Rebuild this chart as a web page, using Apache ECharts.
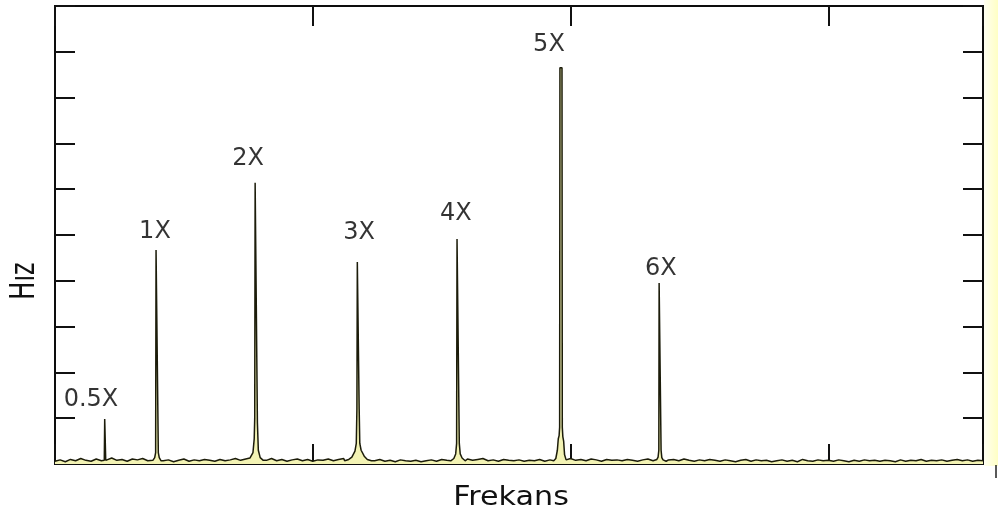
<!DOCTYPE html>
<html>
<head>
<meta charset="utf-8">
<script src="https://cdn.jsdelivr.net/npm/echarts@6/dist/echarts.min.js"></script>
<style>html,body{margin:0;padding:0;background:#fff}#c{width:998px;height:520px}</style>
</head>
<body>
<div id="c"></div>
<script>
// ---- data ----
const xTitle = 'Frekans';
const yTitle = 'Hız';
// noise floor, sampled every 5 Hz from 0 to 900 Hz
const noiseStep = 5;
const noiseAmp = [
  0.06,0.09,0.05,0.10,0.07,0.12,0.08,0.06,0.11,0.07,
  0.09,0.13,0.08,0.10,0.06,0.11,0.09,0.12,0.07,0.10,
  0.12,0.07,0.09,0.05,0.08,0.11,0.06,0.09,0.07,0.10,
  0.08,0.06,0.10,0.07,0.09,0.12,0.08,0.11,0.13,0.10,
  0.11,0.08,0.12,0.07,0.10,0.06,0.09,0.11,0.07,0.10,
  0.06,0.09,0.08,0.11,0.07,0.10,0.12,0.09,0.13,0.10,
  0.12,0.09,0.07,0.10,0.06,0.08,0.05,0.09,0.07,0.06,
  0.08,0.05,0.07,0.09,0.06,0.10,0.08,0.11,0.09,0.10,
  0.11,0.08,0.10,0.12,0.07,0.09,0.06,0.10,0.08,0.07,
  0.09,0.06,0.08,0.07,0.10,0.06,0.09,0.08,0.10,0.09,
  0.12,0.08,0.10,0.07,0.11,0.09,0.06,0.10,0.08,0.09,
  0.07,0.10,0.08,0.06,0.09,0.11,0.07,0.10,0.12,0.09,
  0.10,0.07,0.11,0.08,0.06,0.09,0.07,0.10,0.08,0.06,
  0.09,0.07,0.05,0.08,0.10,0.06,0.09,0.07,0.08,0.05,
  0.07,0.09,0.06,0.08,0.05,0.10,0.07,0.06,0.09,0.07,
  0.08,0.06,0.09,0.07,0.05,0.08,0.06,0.09,0.07,0.08,
  0.06,0.08,0.07,0.05,0.09,0.06,0.08,0.07,0.10,0.06,
  0.08,0.07,0.09,0.06,0.08,0.10,0.07,0.09,0.06,0.08,
  0.07
];
const peakLabels = ['0.5X','1X','2X','3X','4X','5X','6X'];
const peakFreq   = [48.5, 98.9, 195.0, 293.9, 390.8, 490.7, 586.7];
const peakAmp    = [0.98, 4.67, 6.14, 4.41, 4.91, 8.65, 3.95];
// half-width of each peak's top (Hz)
const peakHalfWidth = [0.3, 0.9, 0.9, 0.7, 0.9, 1.0, 0.8];
// skirt around each peak: [offset Hz, amplitude]
const peakSkirts = [
  [[-0.7,0.08],[0.7,0.08]],
  [[-4,0.08],[-2.2,0.14],[-1.3,0.25],[1.3,0.25],[2.2,0.14],[4,0.07]],
  [[-9,0.08],[-6,0.13],[-3,0.25],[-1.8,0.55],[-1.3,1.0],[1.3,0.9],[2.2,0.3],[4,0.14],[7,0.08]],
  [[-13,0.07],[-9,0.10],[-6,0.15],[-3,0.28],[-1.7,0.45],[-1.1,1.2],[1.1,1.2],[1.7,0.45],[3,0.30],[6,0.17],[9,0.10],[13,0.07]],
  [[-7,0.07],[-4,0.12],[-2.2,0.22],[-1.3,0.45],[1.3,0.45],[2.2,0.22],[4,0.13],[7,0.07]],
  [[-7,0.07],[-5,0.12],[-3.5,0.30],[-2.6,0.55],[-1.8,0.62],[-1.3,0.8],[1.3,0.8],[1.8,0.60],[2.6,0.50],[3.5,0.20],[5,0.09]],
  [[-6,0.06],[-3,0.10],[-1.8,0.15],[-1.1,0.30],[1.1,0.30],[1.8,0.14],[3,0.09],[6,0.06]]
];
const xMin = 0, xMax = 900, xInterval = 250;
const yMin = 0, yMax = 10, yInterval = 1;

// ---- layout / style (not data) ----
const labelDx  = [-14, -2, -8, 1, -2, -12, 1];
const labelGap = [7, 6, 12, 17, 13, 11, 2];

// ---- build spectrum ----
let pts = [];
const ranges = peakSkirts.map((s, i) => [peakFreq[i] + s[0][0], peakFreq[i] + s[s.length - 1][0]]);
noiseAmp.forEach((a, i) => {
  const f = i * noiseStep;
  if (!ranges.some(r => f >= r[0] && f <= r[1])) pts.push([f, a]);
});
peakSkirts.forEach((s, i) => {
  s.forEach(p => pts.push([peakFreq[i] + p[0], p[1]]));
  pts.push([peakFreq[i] - peakHalfWidth[i], peakAmp[i]]);
  pts.push([peakFreq[i] + peakHalfWidth[i], peakAmp[i]]);
});
pts.sort((a, b) => a[0] - b[0]);

const labelData = peakLabels.map((n, i) => ({
  value: [peakFreq[i], peakAmp[i]],
  name: n,
  label: { offset: [labelDx[i], -labelGap[i]] }
}));

const axisCommon = {
  type: 'value',
  axisLine: { show: false, onZero: false },
  axisLabel: { show: false },
  splitLine: { show: false },
  axisTick: { show: true, inside: true, length: 20, lineStyle: { color: '#111', width: 2 } }
};

const chart = echarts.init(document.getElementById('c'));
chart.setOption({
  animation: false,
  backgroundColor: '#fff',
  grid: { left: 55, right: 15, top: 6, bottom: 56, show: true, borderColor: '#0d0d0d', borderWidth: 2, backgroundColor: '#fff', outerBoundsMode: 'none' },
  xAxis: [
    Object.assign({}, axisCommon, { min: xMin, max: xMax, interval: xInterval, position: 'bottom' }),
    Object.assign({}, axisCommon, { min: xMin, max: xMax, interval: xInterval, position: 'top' })
  ],
  yAxis: [
    Object.assign({}, axisCommon, { min: yMin, max: yMax, interval: yInterval, position: 'left' }),
    Object.assign({}, axisCommon, { min: yMin, max: yMax, interval: yInterval, position: 'right' })
  ],
  graphic: [
    { type: 'rect', shape: { x: 984, y: 0, width: 14, height: 466 }, style: { fill: new echarts.graphic.LinearGradient(0, 0, 1, 0, [{ offset: 0, color: '#fffff2' }, { offset: 1, color: '#ffffc4' }]) }, z: -1 },
    { type: 'line', shape: { x1: 996, y1: 465, x2: 996, y2: 478 }, style: { stroke: '#222', lineWidth: 1.5 } },
    { type: 'text', x: 511, y: 498, scaleX: 1.16, style: { text: xTitle, font: '26px "DejaVu Sans"', fill: '#111', textAlign: 'center', textVerticalAlign: 'middle' } },
    { type: 'text', x: 25, y: 281, rotation: Math.PI / 2, scaleY: 1.4, style: { text: yTitle, font: '24px "DejaVu Sans"', fill: '#111', textAlign: 'center', textVerticalAlign: 'middle' } }
  ],
  series: [
    {
      type: 'line',
      data: pts,
      showSymbol: false,
      symbol: 'none',
      lineStyle: { color: '#1c1c0a', width: 1.5 },
      areaStyle: { color: '#f3f3b4', opacity: 1 },
      z: 2
    },
    {
      type: 'scatter',
      data: labelData,
      symbolSize: 0,
      label: {
        show: true,
        position: 'top',
        distance: 0,
        formatter: p => p.name,
        fontFamily: 'DejaVu Sans',
        fontSize: 24,
        color: '#000'
      },
      z: 3
    }
  ]
});
</script>
</body>
</html>
